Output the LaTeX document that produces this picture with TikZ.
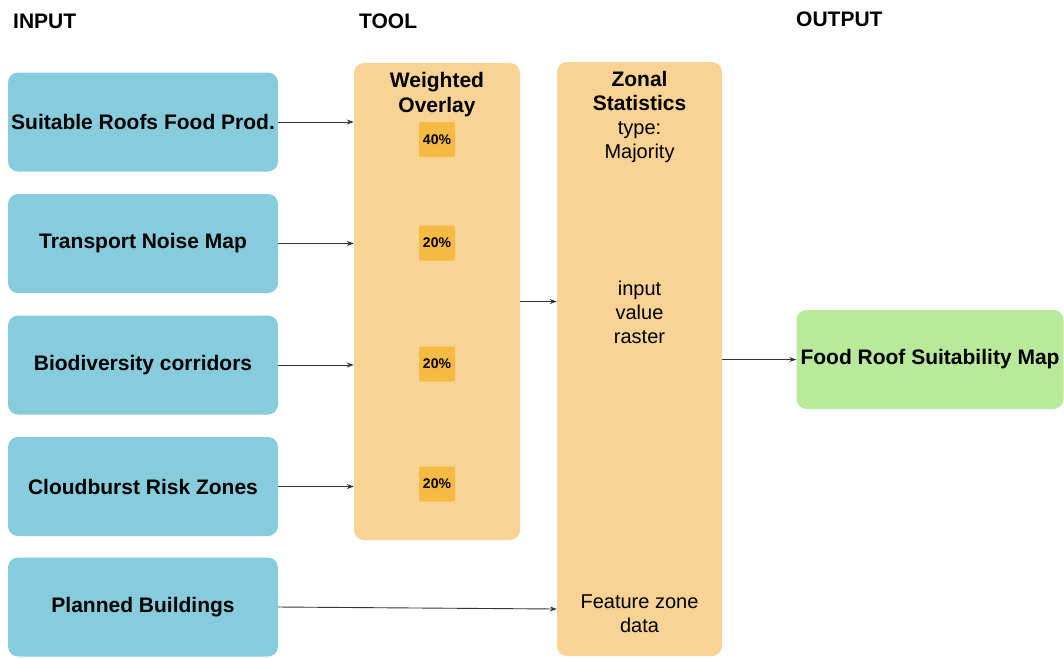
\documentclass[tikz,border=0pt]{standalone}
\usepackage{fontspec}
\setmainfont{Liberation Sans}
\usetikzlibrary{arrows.meta}
\definecolor{inblue}{HTML}{86CCDD}
\definecolor{toolorange}{HTML}{F9D393}
\definecolor{weightbox}{HTML}{F5BA42}
\definecolor{outgreen}{HTML}{B9E99A}
\definecolor{linegray}{HTML}{333333}
\begin{document}
\begin{tikzpicture}[x=1pt,y=-1pt,
  bigbold/.style={font=\fontsize{21}{25}\selectfont\bfseries},
  plain/.style={font=\fontsize{20}{24}\selectfont},
  inbox/.style={fill=inblue, rounded corners=10pt, minimum width=270pt,
    minimum height=99pt, inner sep=0pt, align=center, bigbold},
  toolbox/.style={fill=toolorange, rounded corners=10pt, inner sep=0pt},
  pct/.style={fill=weightbox, rounded corners=2pt, minimum width=36pt,
    minimum height=35pt, inner sep=0pt, font=\fontsize{14}{16}\selectfont\bfseries},
  header/.style={anchor=west, inner sep=0pt, bigbold},
  arr/.style={draw=linegray, line width=0.9pt, -{Stealth[length=7pt,width=5pt]}}]
\useasboundingbox (0,0) rectangle (1064,657);

% column headings
\node[header] (hin) at (13,21) {INPUT};
\node[header] (htool) at (359,21) {TOOL};
\node[header] (hout) at (796,19) {OUTPUT};

% input layers
\node[inbox] (b1) at (143,122) {Suitable Roofs Food Prod.};
\node[inbox] (b2) at (143,243.5) {Transport Noise Map};
\node[inbox] (b3) at (143,365) {Biodiversity corridors};
\node[inbox] (b4) at (143,486.5) {Cloudburst Risk Zones};
\node[inbox] (b5) at (143,607) {Planned Buildings};

% weighted overlay tool
\node[toolbox, minimum width=166pt, minimum height=477pt] (wo) at (437,301.5) {};
\node[bigbold, align=center, inner sep=0pt] (wot) at (437,95) {Weighted\\Overlay};
\node[pct] (p1) at (437,139.5) {40\%};
\node[pct] (p2) at (437,243) {20\%};
\node[pct] (p3) at (437,364) {20\%};
\node[pct] (p4) at (437,484) {20\%};

% zonal statistics tool
\node[toolbox, minimum width=165pt, minimum height=594pt] (zs) at (639.5,359) {};
\node[plain, align=center, inner sep=0pt] (zst) at (639.5,116.5)
  {{\fontsize{21}{24}\selectfont\bfseries Zonal}\\{\fontsize{21}{24}\selectfont\bfseries Statistics}\\type:\\Majority};
\node[plain, align=center, inner sep=0pt] (zsin) at (639.5,312) {input\\value\\raster};
\node[plain, align=center, inner sep=0pt] (zsft) at (639.5,614) {Feature zone\\data};

% result
\node[fill=outgreen, rounded corners=10pt, minimum width=267pt, minimum height=99pt,
  inner sep=0pt, bigbold] (out) at (930,359.5) {Food Roof Suitability Map};

% connectors
\draw[arr] (b1.east) -- (b1.east -| wo.west);
\draw[arr] (b2.east) -- (b2.east -| wo.west);
\draw[arr] (b3.east) -- (b3.east -| wo.west);
\draw[arr] (b4.east) -- (b4.east -| wo.west);
\draw[arr] (wo.east) -- (wo.east -| zs.west);
\draw[arr] (zs.east |- out.west) -- (out.west);
\draw[arr] (b5.east) -- ([yshift=-2pt]b5.east -| zs.west);
\end{tikzpicture}
\end{document}
